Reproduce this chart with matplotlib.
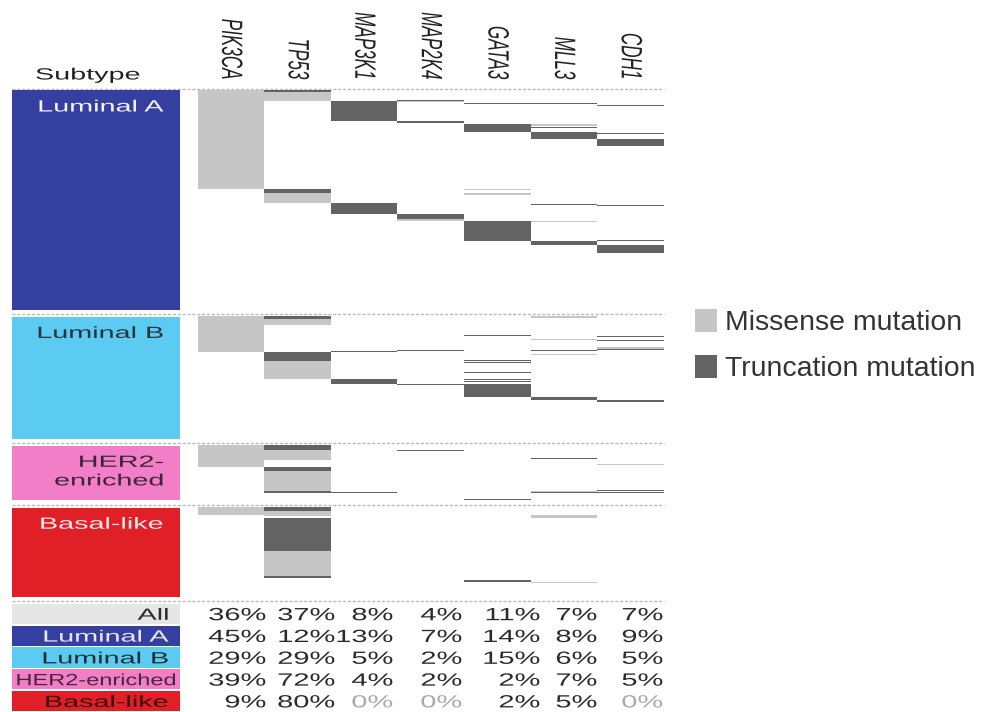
import matplotlib
matplotlib.use("Agg")
import matplotlib.pyplot as plt
from matplotlib.patches import Patch
from matplotlib.patheffects import AbstractPathEffect
from matplotlib.transforms import Affine2D

plt.rcParams["font.family"] = ["Liberation Sans", "DejaVu Sans"]

# ---------------------------------------------------------------- data
genes = ["PIK3CA", "TP53", "MAP3K1", "MAP2K4", "GATA3", "MLL3", "CDH1"]

subtype_names = ["Luminal A", "Luminal B", "HER2-\nenriched", "Basal-like"]
subtype_sizes = [225, 126, 58, 93]
subtype_colors = ["#343f9f", "#5ccbf1", "#f27ec7", "#e11f26"]
subtype_text_colors = ["#f4f4fa", "#26343e", "#3c2636", "#fbe8e8"]

# mutated samples: (gene, first sample, end sample, kind)  M = missense, T = truncation
luminal_a_mut = [
    ("PIK3CA", 0, 100, "M"),
    ("TP53", 0, 2, "T"), ("TP53", 2, 11, "M"), ("TP53", 100, 105, "T"), ("TP53", 105, 115, "M"),
    ("MAP3K1", 11, 31, "T"), ("MAP3K1", 115, 126, "T"),
    ("MAP2K4", 10, 11, "T"), ("MAP2K4", 11, 12, "M"), ("MAP2K4", 31, 33, "T"),
    ("MAP2K4", 33, 34, "M"), ("MAP2K4", 126, 131, "T"), ("MAP2K4", 131, 133, "M"),
    ("GATA3", 13, 14, "T"), ("GATA3", 35, 43, "T"), ("GATA3", 100, 102, "M"),
    ("GATA3", 105, 107, "M"), ("GATA3", 133, 153, "T"),
    ("MLL3", 13, 14, "T"), ("MLL3", 35, 37, "M"), ("MLL3", 38, 39, "T"), ("MLL3", 43, 50, "T"),
    ("MLL3", 116, 117, "T"), ("MLL3", 133, 134, "M"), ("MLL3", 153, 157, "T"),
    ("CDH1", 15, 16, "T"), ("CDH1", 44, 45, "T"), ("CDH1", 50, 57, "T"),
    ("CDH1", 117, 118, "T"), ("CDH1", 152, 153, "T"), ("CDH1", 157, 165, "T"),
]
luminal_b_mut = [
    ("PIK3CA", 0, 36, "M"),
    ("TP53", 0, 3, "T"), ("TP53", 3, 9, "M"), ("TP53", 36, 45, "T"), ("TP53", 45, 64, "M"),
    ("MAP3K1", 35, 36, "T"), ("MAP3K1", 64, 69, "T"),
    ("MAP2K4", 34, 35, "T"), ("MAP2K4", 69, 70, "T"),
    ("GATA3", 19, 20, "T"), ("GATA3", 44, 45, "T"), ("GATA3", 46, 47, "T"), ("GATA3", 56, 57, "T"),
    ("GATA3", 64, 65, "T"), ("GATA3", 66, 67, "T"), ("GATA3", 69, 82, "T"),
    ("MLL3", 0, 2, "M"), ("MLL3", 23, 24, "M"), ("MLL3", 34, 35, "T"), ("MLL3", 38, 39, "M"),
    ("MLL3", 82, 85, "T"),
    ("CDH1", 20, 21, "T"), ("CDH1", 24, 25, "T"), ("CDH1", 31, 33, "M"), ("CDH1", 33, 34, "T"),
    ("CDH1", 85, 87, "T"),
]
her2_mut = [
    ("PIK3CA", 0, 22, "M"),
    ("TP53", 0, 5, "T"), ("TP53", 5, 15, "M"), ("TP53", 22, 26, "T"), ("TP53", 26, 46, "M"),
    ("TP53", 46, 48, "T"),
    ("MAP3K1", 47, 48, "T"),
    ("MAP2K4", 5, 6, "T"),
    ("GATA3", 54, 55, "T"),
    ("MLL3", 13, 14, "T"), ("MLL3", 46, 47, "M"), ("MLL3", 47, 48, "T"),
    ("CDH1", 19, 20, "M"), ("CDH1", 45, 46, "T"), ("CDH1", 47, 48, "T"),
]
basal_mut = [
    ("PIK3CA", 0, 8, "M"),
    ("TP53", 0, 4, "T"), ("TP53", 4, 9, "M"), ("TP53", 11, 44, "T"), ("TP53", 44, 70, "M"),
    ("TP53", 70, 72, "T"),
    ("GATA3", 74, 76, "T"),
    ("MLL3", 8, 11, "M"), ("MLL3", 76, 77, "M"),
]
subtype_mutations = [luminal_a_mut, luminal_b_mut, her2_mut, basal_mut]

kind_colors = {"M": "#c6c6c6", "T": "#636363"}
legend_labels = ["Missense mutation", "Truncation mutation"]

table_rows = ["All", "Luminal A", "Luminal B", "HER2-enriched", "Basal-like"]
table_row_colors = ["#e6e6e6"] + subtype_colors
table_text_colors = ["#2b2b2b", "#e8e8f6", "#1f2d36", "#46263c", "#3a0c0e"]
pct_all = [36, 37, 8, 4, 11, 7, 7]
pct_luminal_a = [45, 12, 13, 7, 14, 8, 9]
pct_luminal_b = [29, 29, 5, 2, 15, 6, 5]
pct_her2 = [39, 72, 4, 2, 2, 7, 5]
pct_basal = [9, 80, 0, 0, 2, 5, 0]
pct_table = [pct_all, pct_luminal_a, pct_luminal_b, pct_her2, pct_basal]


# ---------------------------------------------------------------- helpers
class Widen(AbstractPathEffect):
    """Stretch glyph outlines, keeping one edge (or the middle) in place."""

    def __init__(self, factor, anchor=0.0, across=False):
        super().__init__()
        self.factor = factor
        self.anchor = anchor
        self.across = across

    def draw_path(self, renderer, gc, tpath, affine, rgbFace=None):
        v = tpath.vertices
        if len(v) == 0:
            return
        if self.across:
            c = 0.5 * (v[:, 1].min() + v[:, 1].max())
            st = Affine2D().translate(0, -c).scale(1, self.factor).translate(0, c)
        else:
            c = self.anchor * v[:, 0].max()
            st = Affine2D().translate(-c, 0).scale(self.factor, 1).translate(c, 0)
        renderer.draw_path(gc, tpath, st + affine, rgbFace)


W, H = 982, 712
fig = plt.figure(figsize=(W / 100, H / 100), dpi=100)
fig.patch.set_facecolor("white")


def frac(x0, y0, x1, y1):
    return [x0 / W, 1 - y1 / H, (x1 - x0) / W, (y1 - y0) / H]


def bare(ax):
    ax.set_xticks([])
    ax.set_yticks([])
    for s in ax.spines.values():
        s.set_visible(False)


MX0, MX1 = 197.5, 663.7
LX0, LX1 = 12, 180
TOP, PX, GAP = 90.0, 0.985, 4.8

bg = fig.add_axes([0, 0, 1, 1])
bg.set_xlim(0, W)
bg.set_ylim(H, 0)
bg.axis("off")

# ---------------------------------------------------------------- header
bg.text(35, 79.5, "Subtype", ha="left", va="baseline", fontsize=11.7, color="#222222",
        path_effects=[Widen(1.77, 0.0)])

hdr = fig.add_axes(frac(MX0, 0, MX1, 88))
hdr.set_xlim(0, len(genes))
hdr.set_ylim(88, 0)
hdr.axis("off")
for i, g in enumerate(genes):
    hdr.text(i + 0.5, 79.5, g, rotation=270, ha="center", va="bottom", fontsize=12.3,
             style="italic", color="#222222", path_effects=[Widen(1.72, across=True)])

# ---------------------------------------------------------------- subtype blocks
sep_y = [88.5]
y = TOP
for name, n, col, tcol, muts in zip(subtype_names, subtype_sizes, subtype_colors,
                                    subtype_text_colors, subtype_mutations):
    y0, y1 = y, y + n * PX
    lab = fig.add_axes(frac(LX0, y0 + 0.5, LX1, y1 - 2))
    lab.set_facecolor(col)
    bare(lab)
    h_px = (y1 - 2) - (y0 + 0.5)
    lab.text((164 - LX0) / (LX1 - LX0), 1 - 9.0 / h_px, name, transform=lab.transAxes,
             ha="right", va="top", multialignment="right", fontsize=11.7, color=tcol,
             linespacing=1.3, path_effects=[Widen(1.77, 1.0)])

    ax = fig.add_axes(frac(MX0, y0, MX1, y1))
    ax.set_xlim(0, len(genes))
    ax.set_ylim(n, 0)
    ax.patch.set_alpha(0)
    ax.axis("off")
    xs = [genes.index(m[0]) for m in muts]
    ax.bar(xs, [m[2] - m[1] for m in muts], bottom=[m[1] for m in muts], width=1,
           align="edge", color=[kind_colors[m[3]] for m in muts], linewidth=0)

    sep_y.append(y1 + GAP / 2 if name != subtype_names[-1] else y1 + 2.6)
    y = y1 + GAP

bg.hlines(sep_y, 12, 664, colors="#b8b8b8", linestyles=(0, (2.2, 1.3)), linewidth=1.0)

# ---------------------------------------------------------------- frequency table
tab = fig.add_axes(frac(12, 603, 664, 712))
tab.set_xlim(12, 664)
tab.set_ylim(len(table_rows), 0)
tab.axis("off")
rows_idx = [i + 0.5 for i in range(len(table_rows))]
tab.barh(rows_idx, LX1 - LX0, left=LX0, height=0.92, color=table_row_colors, linewidth=0)

value_right = [266, 335, 393, 462, 540, 597, 663]
for i, (label, tcol, vals) in enumerate(zip(table_rows, table_text_colors, pct_table)):
    long_label = label.startswith("HER2")
    tab.text(177 if long_label else 169, i + 0.5 + 0.27, label, ha="right", va="baseline",
             fontsize=11.7, color=tcol, path_effects=[Widen(1.45 if long_label else 1.77, 1.0)])
    for j, v in enumerate(vals):
        tab.text(value_right[j], i + 0.5 + 0.29, f"{v}%", ha="right", va="baseline",
                 fontsize=12.75, color="#aaaaaa" if v == 0 else "#2b2b2b",
                 path_effects=[Widen(1.64, 1.0)])

# ---------------------------------------------------------------- legend
handles = [Patch(facecolor=kind_colors[k], edgecolor="none") for k in ("M", "T")]
fig.legend(handles, legend_labels, loc="upper left", bbox_to_anchor=(695 / W, 1 - 309 / H),
           frameon=False, fontsize=20.4, labelcolor="#333333", handlelength=0.77,
           handleheight=0.85, handletextpad=0.3, labelspacing=0.68, borderpad=0,
           borderaxespad=0)

fig.savefig("out.png", dpi=100, facecolor="white")
